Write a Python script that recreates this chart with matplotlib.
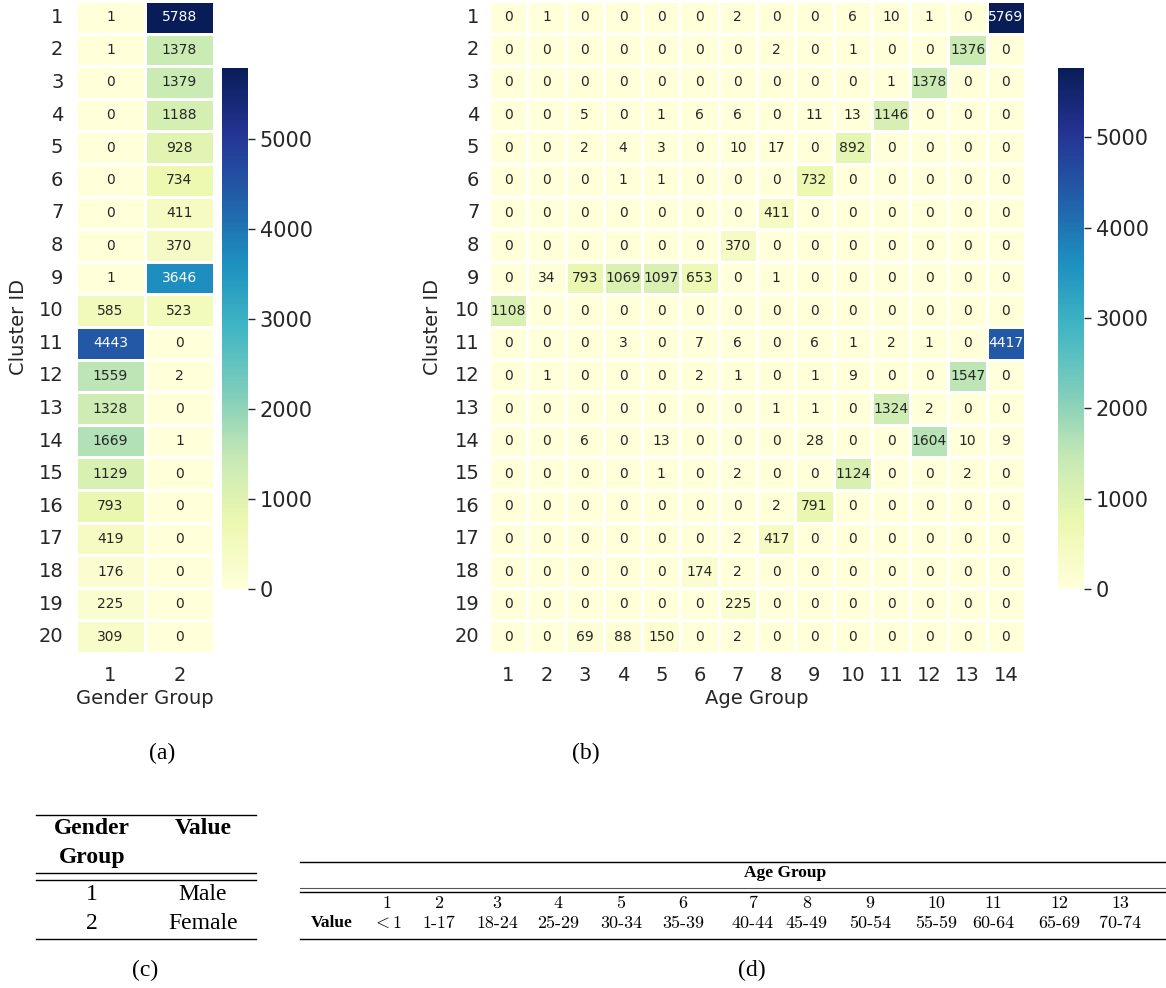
import matplotlib
matplotlib.use("Agg")
import matplotlib.pyplot as plt
from matplotlib.lines import Line2D
import numpy as np
import seaborn as sns

plt.rcParams["mathtext.fontset"] = "cm"

# ---- data ----
clusters = [str(i) for i in range(1, 21)]
gender_groups = ["1", "2"]
age_groups = [str(i) for i in range(1, 15)]

gender_counts = [
    [1, 5788], [1, 1378], [0, 1379], [0, 1188], [0, 928],
    [0, 734], [0, 411], [0, 370], [1, 3646], [585, 523],
    [4443, 0], [1559, 2], [1328, 0], [1669, 1], [1129, 0],
    [793, 0], [419, 0], [176, 0], [225, 0], [309, 0],
]

age_counts = [
    [0, 1, 0, 0, 0, 0, 2, 0, 0, 6, 10, 1, 0, 5769],
    [0, 0, 0, 0, 0, 0, 0, 2, 0, 1, 0, 0, 1376, 0],
    [0, 0, 0, 0, 0, 0, 0, 0, 0, 0, 1, 1378, 0, 0],
    [0, 0, 5, 0, 1, 6, 6, 0, 11, 13, 1146, 0, 0, 0],
    [0, 0, 2, 4, 3, 0, 10, 17, 0, 892, 0, 0, 0, 0],
    [0, 0, 0, 1, 1, 0, 0, 0, 732, 0, 0, 0, 0, 0],
    [0, 0, 0, 0, 0, 0, 0, 411, 0, 0, 0, 0, 0, 0],
    [0, 0, 0, 0, 0, 0, 370, 0, 0, 0, 0, 0, 0, 0],
    [0, 34, 793, 1069, 1097, 653, 0, 1, 0, 0, 0, 0, 0, 0],
    [1108, 0, 0, 0, 0, 0, 0, 0, 0, 0, 0, 0, 0, 0],
    [0, 0, 0, 3, 0, 7, 6, 0, 6, 1, 2, 1, 0, 4417],
    [0, 1, 0, 0, 0, 2, 1, 0, 1, 9, 0, 0, 1547, 0],
    [0, 0, 0, 0, 0, 0, 0, 1, 1, 0, 1324, 2, 0, 0],
    [0, 0, 6, 0, 13, 0, 0, 0, 28, 0, 0, 1604, 10, 9],
    [0, 0, 0, 0, 1, 0, 2, 0, 0, 1124, 0, 0, 2, 0],
    [0, 0, 0, 0, 0, 0, 0, 2, 791, 0, 0, 0, 0, 0],
    [0, 0, 0, 0, 0, 0, 2, 417, 0, 0, 0, 0, 0, 0],
    [0, 0, 0, 0, 0, 174, 2, 0, 0, 0, 0, 0, 0, 0],
    [0, 0, 0, 0, 0, 0, 225, 0, 0, 0, 0, 0, 0, 0],
    [0, 0, 69, 88, 150, 0, 2, 0, 0, 0, 0, 0, 0, 0],
]

gender_values = ["Male", "Female"]
age_values = [r"$<1$", "1-17", "18-24", "25-29", "30-34", "35-39", "40-44",
              "45-49", "50-54", "55-59", "60-64", "65-69", "70-74", r"$\geq 75$"]

# ---- layout helpers (pixel positions -> figure fractions) ----
W, H = 1166, 988
fig = plt.figure(figsize=(W / 100, H / 100), dpi=100)


def box(x0, y0, x1, y1):
    return [x0 / W, 1 - y1 / H, (x1 - x0) / W, (y1 - y0) / H]


def hline(x0, x1, y, lw=1.0, color="black"):
    fig.add_artist(Line2D([x0 / W, x1 / W], [1 - y / H, 1 - y / H],
                          transform=fig.transFigure, lw=lw, color=color))


def txt(x, y, s, **kw):
    fig.text(x / W, 1 - y / H, s, ha=kw.pop("ha", "center"),
             va=kw.pop("va", "center"), **kw)


def draw_heatmap(ax, cax, data, xlabels, xname, ypad, ylabelpad):
    sns.heatmap(np.array(data), ax=ax, cbar_ax=cax, cmap="YlGnBu",
                annot=True, fmt="d", linewidths=1, linecolor="white",
                annot_kws={"size": 10},
                xticklabels=xlabels, yticklabels=clusters)
    ax.tick_params(length=0, labelsize=14, colors="#262626")
    ax.tick_params(axis="x", pad=9)
    ax.tick_params(axis="y", pad=ypad)
    ax.set_yticklabels(clusters, rotation=0)
    ax.set_xticklabels(xlabels, rotation=0)
    ax.set_xlabel(xname, fontsize=14, color="#262626", labelpad=3)
    ax.set_ylabel("Cluster ID", fontsize=14, color="#262626", labelpad=ylabelpad)
    cax.tick_params(labelsize=15, length=5, width=1, colors="#262626")


ax_a = fig.add_axes(box(76, 1, 214, 653))
cax_a = fig.add_axes(box(222, 68, 248, 589))
draw_heatmap(ax_a, cax_a, gender_counts, gender_groups, "Gender Group", 9, 8)

ax_b = fig.add_axes(box(489, 1, 1025, 653))
cax_b = fig.add_axes(box(1058, 68, 1084, 589))
draw_heatmap(ax_b, cax_b, age_counts, age_groups, "Age Group", 7, 9)

serif = "Liberation Serif"
txt(162, 753, "(a)", family=serif, fontsize=17)
txt(586, 753, "(b)", family=serif, fontsize=17)

# ---- table (c) ----
hline(36, 256, 815)
hline(36, 256, 873)
hline(36, 256, 880)
hline(36, 256, 939)
txt(92, 829, "Gender", family=serif, fontsize=17, weight="bold")
txt(92, 857, "Group", family=serif, fontsize=17, weight="bold")
txt(203, 828, "Value", family=serif, fontsize=17, weight="bold")
for i, (g, v) in enumerate(zip(gender_groups, gender_values)):
    txt(92, 894 + 29 * i, g, family=serif, fontsize=17)
    txt(203, 894 + 29 * i, v, family=serif, fontsize=17)
txt(145, 970, "(c)", family=serif, fontsize=17)

# ---- table (d) (runs past the right edge, as in the source figure) ----
hline(300, W, 862)
hline(300, W, 888, lw=0.8, color="#555555")
hline(300, W, 892)
hline(300, W, 939)
txt(785, 873, "Age Group", family=serif, fontsize=12.5, weight="bold")
txt(332, 923, "Value", family=serif, fontsize=12.5, weight="bold")
col_x = [387, 439, 497, 558, 621, 683, 753, 807, 870, 936, 993, 1059, 1120, 1181]
for cx, g, v in zip(col_x, age_groups, age_values):
    txt(cx, 903, g, family="cmr10", fontsize=13)
    txt(cx, 923, v, family="cmr10", fontsize=13)
txt(752, 970, "(d)", family=serif, fontsize=17)

fig.savefig("out.png", dpi=100)
